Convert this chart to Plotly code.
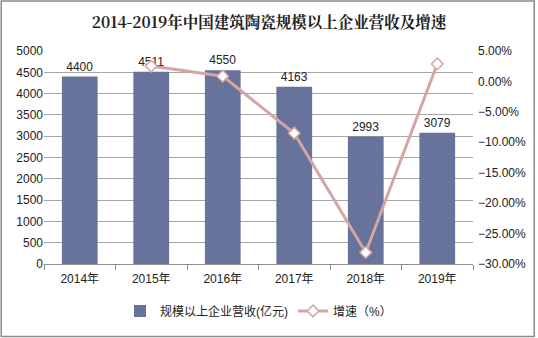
import plotly.graph_objects as go

# Annual revenue of large-scale building ceramics enterprises and growth rate
years = ["2014年", "2015年", "2016年", "2017年", "2018年", "2019年"]
revenue = [4400, 4511, 4550, 4163, 2993, 3079]          # 亿元
growth = [None, 2.52, 0.86, -8.51, -28.10, 2.87]         # %

W, H = 538, 338
ml, mr, mt, mb = 44, 63, 51, 74

bar_color = "#67739A"
line_color = "#D4A5A5"
grid_color = "#A6A6A6"
font_family = "Liberation Sans, Arial, Noto Sans CJK SC, sans-serif"

fig = go.Figure()
fig.add_trace(go.Bar(
    x=years, y=revenue, name="规模以上企业营收(亿元)",
    marker=dict(color=bar_color, line=dict(width=0)),
    text=[str(v) for v in revenue], textposition="outside",
    textfont=dict(size=12, color="#222222"), cliponaxis=False,
))
fig.add_trace(go.Scatter(
    x=years, y=growth, name="增速（%）", yaxis="y2",
    mode="lines+markers",
    line=dict(color=line_color, width=3),
    marker=dict(symbol="diamond", size=9, color="white",
                line=dict(color=line_color, width=1.5)),
))

pw = W - ml - mr
ph = H - mt - mb
# outer border of the chart
fig.add_shape(type="rect", xref="paper", yref="paper",
              x0=(1 - ml) / pw, x1=(W - 1.5 - ml) / pw,
              y0=-(H - 1.5 - mt - ph) / ph, y1=1 + (mt - 1) / ph,
              line=dict(color="#8C8C8C", width=1.5), layer="below")

fig.update_layout(
    width=W, height=H,
    margin=dict(l=ml, r=mr, t=mt, b=mb),
    paper_bgcolor="white", plot_bgcolor="white",
    font=dict(family=font_family, size=12, color="#222222"),
    title=dict(text="<b>2014-2019年中国建筑陶瓷规模以上企业营收及增速</b>",
               x=0.5, xanchor="center", y=1 - 23 / H, yanchor="middle",
               font=dict(size=15.5, family="Noto Serif CJK SC, Noto Sans CJK SC, serif",
                         color="#222222")),
    bargap=0.5,
    xaxis=dict(showgrid=False, showline=True, linecolor="#8C8C8C",
               ticks="outside", ticklen=5, tickcolor="#8C8C8C",
               tickson="boundaries", tickfont=dict(size=12),
               ticklabelstandoff=4),
    yaxis=dict(range=[0, 5000], dtick=500, showgrid=True, gridcolor=grid_color,
               gridwidth=1, zeroline=False, showline=False, ticks="",
               tickfont=dict(size=12)),
    yaxis2=dict(range=[-30, 5], dtick=5, overlaying="y", side="right",
                showgrid=False, zeroline=False, ticks="",
                ticksuffix="%", tickformat=".2f", tickfont=dict(size=12),
                ticklabelstandoff=4),
    legend=dict(orientation="h", x=0.5, xanchor="center",
                y=-(311 - mt - ph) / ph, yanchor="middle",
                font=dict(size=12), itemwidth=30),
    showlegend=True,
)

fig.write_html("out.html")
